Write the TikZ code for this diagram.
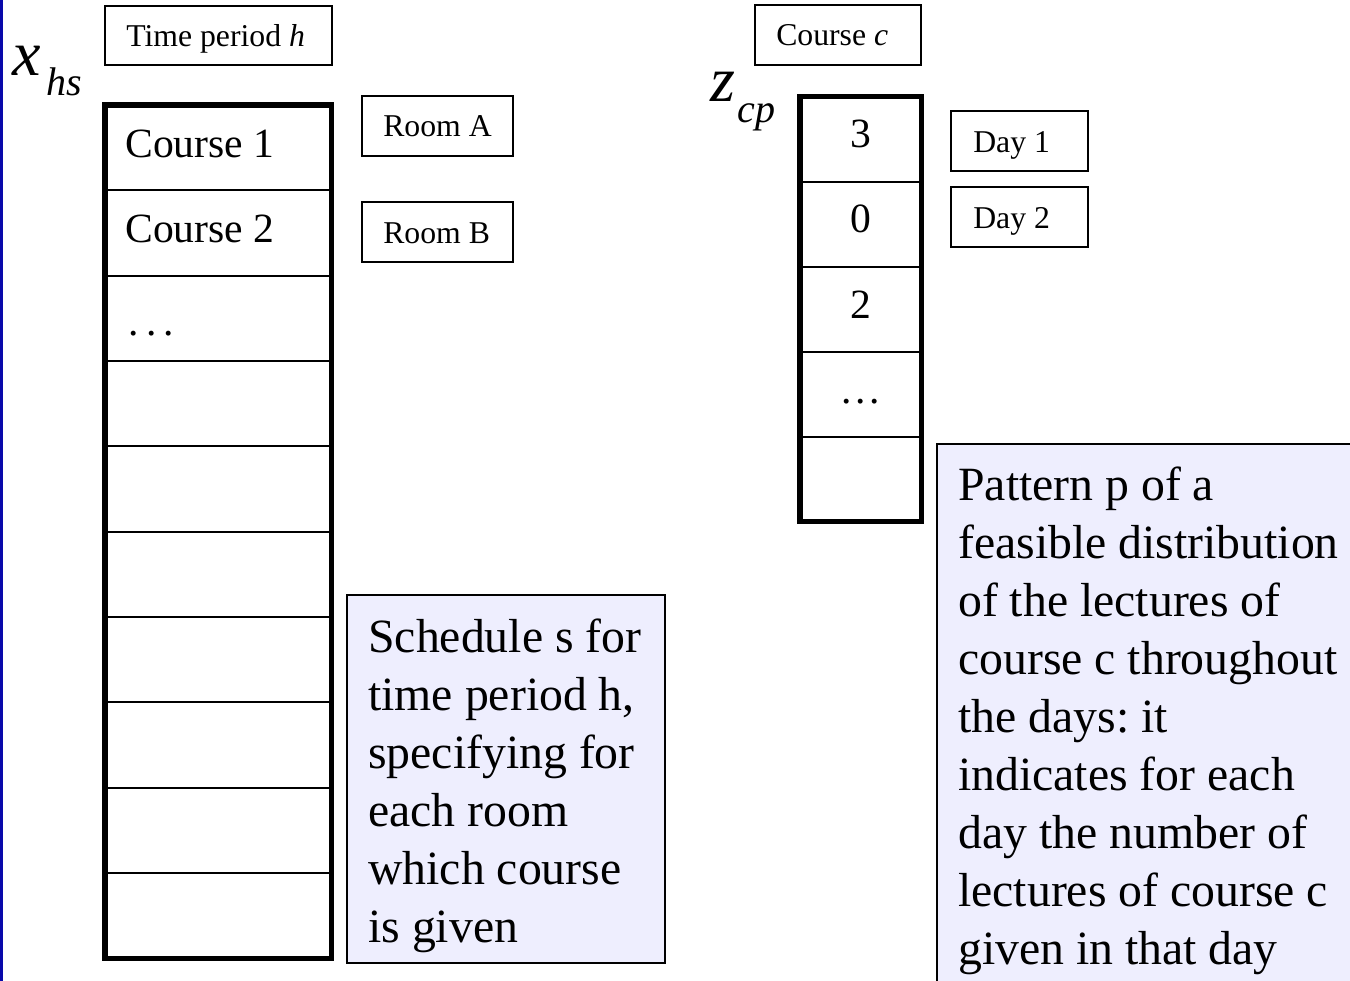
\documentclass[tikz,border=0pt]{standalone}
\usepackage{fontspec}
\setmainfont{Liberation Serif}
\definecolor{lav}{RGB}{238,238,254}
\definecolor{edgeblue}{RGB}{8,8,170}
\frenchspacing
\begin{document}
\begin{tikzpicture}[x=0.75pt,y=-0.75pt,
  smallbox/.style={draw, line width=1.1pt, anchor=north west, inner sep=0pt, outer sep=0pt},
  small/.style={anchor=base west, inner sep=0pt, font=\fontsize{23.8}{28}\selectfont},
  cellL/.style={draw, line width=1.5pt, anchor=north west, inner sep=0pt, outer sep=0pt,
    minimum width=169.9pt, minimum height=64.01pt},
  cellR/.style={draw, line width=1.5pt, anchor=north west, inner sep=0pt, outer sep=0pt,
    minimum width=91.125pt, minimum height=63.75pt},
  colframe/.style={draw, line width=4.3pt},
  celltext/.style={inner sep=0pt, font=\fontsize{31.2}{36}\selectfont},
  notebox/.style={draw, line width=1.1pt, fill=lav, anchor=north west, inner sep=0pt, outer sep=0pt},
  notetext/.style={anchor=base west, inner sep=0pt, font=\fontsize{35.8}{43.5}\selectfont},
  biglabel/.style={anchor=base west, inner sep=0pt, font=\fontsize{48}{50}\selectfont},
]
\useasboundingbox (0,0) rectangle (1350,981);
\clip (0,0) rectangle (1350,981);
\fill[white] (0,0) rectangle (1350,981);
\fill[edgeblue] (0,0) rectangle (3,981);

% ---- left part: x_hs ----
\node[biglabel] (xhs) at (12,75) {\textit{x}\kern 4.5pt\raisebox{-15pt}{\fontsize{30}{32}\selectfont\textit{hs}}};
\node[smallbox, minimum width=170.25pt, minimum height=44.25pt] (tp) at (105,6) {};
\node[small] (tpt) at (126,47) {Time period \textit{h}};

\foreach \i in {1,...,10}
  \node[cellL] (l\i) at (105,{105+85.35*(\i-1)}) {};
\draw[colframe] (l1.north west) rectangle (l10.south east);
\node[celltext, anchor=base west] (c1) at (125,157) {Course 1};
\node[celltext, anchor=base west] (c2) at (125,242) {Course 2};
\node[celltext, anchor=base west] (c3) at (128.5,335) {.\kern5.3pt.\kern5.3pt.};

\node[smallbox, minimum width=113.25pt, minimum height=45pt] (ra) at (362,96) {};
\node[small] (rat) at (383,137) {Room A};
\node[smallbox, minimum width=113.25pt, minimum height=45pt] (rb) at (362,202) {};
\node[small] (rbt) at (383,243) {Room B};

\node[notebox, minimum width=238.5pt, minimum height=276pt] (sb) at (347,595) {};
\node[notetext] (sbt) at (368,652) {\parbox[t]{300pt}{\raggedright
Schedule s for\\
time period h,\\
specifying for\\
each room\\
which course\\
is given}};

% ---- right part: z_cp ----
\node[smallbox, minimum width=124.5pt, minimum height=45pt] (cc) at (755,5) {};
\node[small] (cct) at (776,46) {Course \textit{c}};
\node[biglabel] (zcp) at (710,102) {\textit{z}\kern 2pt\raisebox{-15.75pt}{\fontsize{30}{32}\selectfont\textit{cp}}};

\foreach \i in {1,...,5}
  \node[cellR] (r\i) at (800,{96.5+85*(\i-1)}) {};
\draw[colframe] (r1.north west) rectangle (r5.south east);
\node[celltext, anchor=base] (v1) at (860.75,147) {3};
\node[celltext, anchor=base] (v2) at (860.75,232) {0};
\node[celltext, anchor=base] (v3) at (860.75,318) {2};
\node[celltext, anchor=base] (v4) at (861,403) {.\kern2.7pt.\kern2.7pt.};

\node[smallbox, minimum width=102.75pt, minimum height=45pt] (d1) at (951,111) {};
\node[small] (d1t) at (973,152) {Day 1};
\node[smallbox, minimum width=102.75pt, minimum height=45pt] (d2) at (951,187) {};
\node[small] (d2t) at (973,228) {Day 2};

\node[notebox, minimum width=330pt, minimum height=420pt] (pb) at (937,444) {};
\node[notetext] (pbt) at (958,500) {\parbox[t]{320pt}{\raggedright
Pattern p of a\\
feasible distribution\\
of the lectures of\\
course c throughout\\
the days: it\\
indicates for each\\
day the number of\\
lectures of course c\\
given in that day}};
\end{tikzpicture}
\end{document}
